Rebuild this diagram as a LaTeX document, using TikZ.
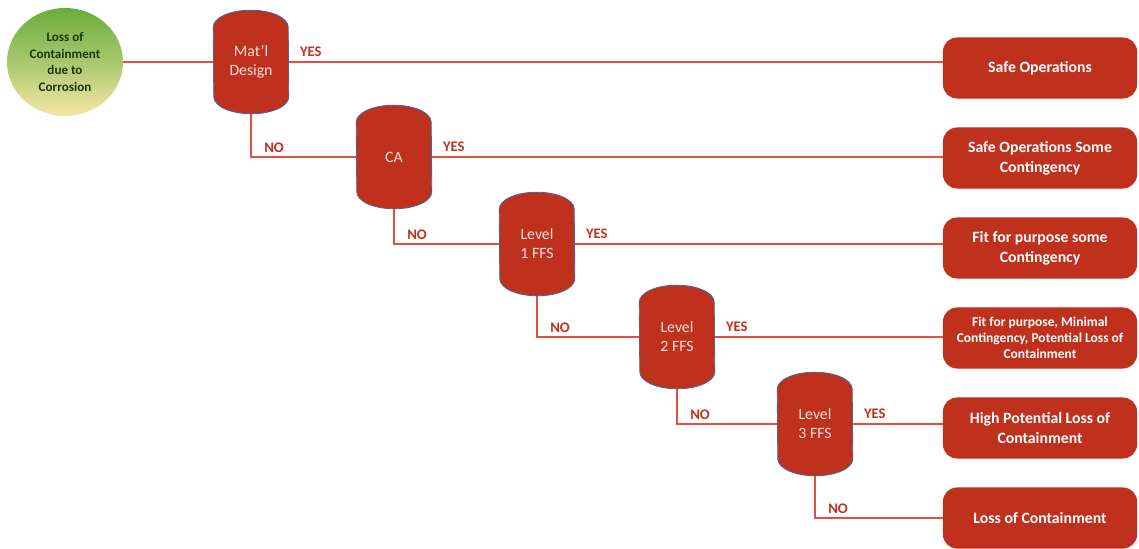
\documentclass[tikz,border=0pt]{standalone}
\usepackage{fontspec}
\setmainfont{Carlito}
\usetikzlibrary{shapes.geometric,positioning,calc,backgrounds}
\definecolor{cylred}{HTML}{C0311D}
\definecolor{linered}{HTML}{E4503F}
\definecolor{lblred}{HTML}{C42F1E}
\definecolor{rimblue}{HTML}{4A6594}
\definecolor{leafgreen}{HTML}{6AAD3D}
\definecolor{sandyellow}{HTML}{F6E7A9}

\begin{document}
\begin{tikzpicture}[
    x=0.025cm, y=0.025cm,
    lossnode/.style={ellipse, minimum width=2.9cm, minimum height=2.7cm, inner sep=0pt, align=center, top color=leafgreen, bottom color=sandyellow, middle color=leafgreen!55!sandyellow, text=black!70!leafgreen, font=\bfseries\fontsize{9.3}{11.8}\selectfont},
    decide/.style={rectangle, minimum width=1.875cm, minimum height=2.575cm, inner sep=0pt, align=center, text=white!85!cylred, font=\fontsize{11.2}{13.5}\selectfont},
    outcome/.style={rectangle, rounded corners=0.35cm, fill=cylred, minimum width=4.85cm, minimum height=1.525cm, align=center, text=white, font=\bfseries\fontsize{11.2}{14}\selectfont},
    lbl/.style={text=lblred, font=\bfseries\fontsize{10.4}{12}\selectfont, inner sep=0pt, anchor=south west},
    link/.style={draw=linered, line width=1.7pt},
    body/.style={fill=cylred, draw=rimblue, line width=0.6pt}
]
\useasboundingbox (0,0) rectangle (1139,548);

% start
\node[lossnode] (loss) at (65,486) {Loss of\\Containment\\due to\\Corrosion};

% decisions
\node[decide] (matl) at (251,486) {Mat'l\\Design};
\node[decide] (ca) at (394,391) {CA};
\node[decide] (lvla) at (537,304) {Level\\1 FFS};
\node[decide] (lvlb) at (677,211) {Level\\2 FFS};
\node[decide] (lvlc) at (815,124) {Level\\3 FFS};

% outcomes
\node[outcome] (safe) at (1040,480) {Safe Operations};
\node[outcome] (safesome) at (1040,390) {Safe Operations Some\\Contingency};
\node[outcome] (fitsome) at (1040,300) {Fit for purpose some\\Contingency};
\node[outcome, font=\bfseries\fontsize{9.6}{11.5}\selectfont] (fitmin) at (1040,210) {Fit for purpose, Minimal\\Contingency, Potential Loss of\\Containment};
\node[outcome] (highloss) at (1040,120) {High Potential Loss of\\Containment};
\node[outcome] (lossend) at (1040,30) {Loss of Containment};

% cylinder bodies
\begin{scope}[on background layer]
\foreach \n in {matl,ca,lvla,lvlb,lvlc}{
  \filldraw[body] ($(\n.north west)+(0,-17)$) arc[start angle=180, end angle=0, x radius=37.5, y radius=17]
    -- ($(\n.south east)+(0,17)$) arc[start angle=0, end angle=-180, x radius=37.5, y radius=17] -- cycle;
}
\end{scope}

% connectors
\draw[link] (loss) -- (matl);
\draw[link] (matl.east) -- (matl.east -| safe.west);
\draw[link] (matl.south) |- (ca.west);
\draw[link] (ca.east) -- (ca.east -| safesome.west);
\draw[link] (ca.south) |- (lvla.west);
\draw[link] (lvla.east) -- (lvla.east -| fitsome.west);
\draw[link] (lvla.south) |- (lvlb.west);
\draw[link] (lvlb.east) -- (lvlb.east -| fitmin.west);
\draw[link] (lvlb.south) |- (lvlc.west);
\draw[link] (lvlc.east) -- (lvlc.east -| highloss.west);
\draw[link] (lvlc.south) |- (lossend.west);

% labels
\node[lbl] (yesa) at ($(matl.east)+(11,5)$) {YES};
\node[lbl] (yesb) at ($(ca.east)+(11,5)$) {YES};
\node[lbl] (yesc) at ($(lvla.east)+(11,5)$) {YES};
\node[lbl] (yesd) at ($(lvlb.east)+(11,5)$) {YES};
\node[lbl] (yese) at ($(lvlc.east)+(11,5)$) {YES};
\node[lbl] (noa) at ($(matl.south |- ca.west)+(13,4)$) {NO};
\node[lbl] (nob) at ($(ca.south |- lvla.west)+(13,4)$) {NO};
\node[lbl] (noc) at ($(lvla.south |- lvlb.west)+(13,4)$) {NO};
\node[lbl] (nod) at ($(lvlb.south |- lvlc.west)+(13,4)$) {NO};
\node[lbl] (noe) at ($(lvlc.south |- lossend.west)+(13,4)$) {NO};

\end{tikzpicture}
\end{document}
